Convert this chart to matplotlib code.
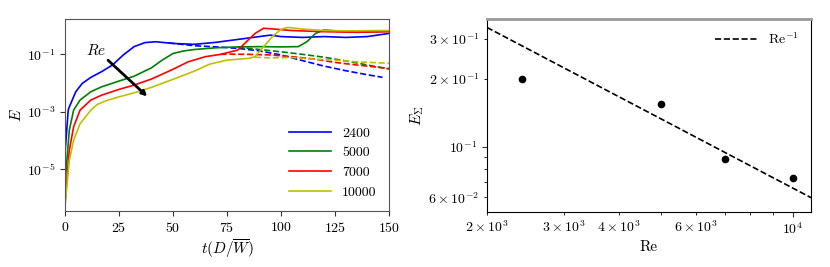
import numpy as np
import matplotlib
matplotlib.use("Agg")
import matplotlib.pyplot as plt

plt.rcParams["font.family"] = "serif"
plt.rcParams["font.serif"] = ["cmr10", "DejaVu Serif"]
plt.rcParams["mathtext.fontset"] = "cm"
plt.rcParams["axes.formatter.use_mathtext"] = True
plt.rcParams["axes.unicode_minus"] = False

# ---- left panel: energy vs time (log10 E) ----
labels = ["2400", "5000", "7000", "10000"]
colors = ["b", "g", "r", "y"]

t_2400 = [0, 1.5, 2, 5, 8, 12, 17, 22, 27, 32, 37, 42, 50, 60, 70, 80, 90, 95, 100, 110, 120, 130, 140, 150]
e_2400 = [-4.45, -2.94, -2.83, -2.30, -2.01, -1.80, -1.60, -1.37, -1.02, -0.73, -0.59, -0.56, -0.62, -0.65,
          -0.58, -0.48, -0.38, -0.33, -0.38, -0.41, -0.38, -0.41, -0.38, -0.27]
t_2400d = [48, 60, 70, 80, 90, 100, 110, 120, 130, 140, 147]
e_2400d = [-0.60, -0.70, -0.74, -0.79, -0.88, -1.02, -1.22, -1.41, -1.57, -1.71, -1.80]

t_5000 = [0, 2, 4, 7, 12, 17, 25, 32, 40, 45, 50, 55, 60, 70, 80, 90, 100, 108, 112, 116, 120, 125, 135, 145, 150]
e_5000 = [-5.5, -3.64, -2.94, -2.59, -2.30, -2.13, -1.93, -1.76, -1.47, -1.20, -0.97, -0.88, -0.83, -0.77,
          -0.74, -0.73, -0.74, -0.73, -0.56, -0.27, -0.15, -0.18, -0.23, -0.21, -0.19]
t_5000d = [80, 90, 100, 110, 120, 130, 140, 150]
e_5000d = [-0.75, -0.83, -0.91, -1.00, -1.10, -1.23, -1.37, -1.51]

t_7000 = [0, 2, 4, 7, 12, 17, 25, 32, 40, 50, 57, 65, 72, 80, 84, 88, 92, 97, 105, 120, 135, 150]
e_7000 = [-6.2, -4.34, -3.52, -2.94, -2.59, -2.42, -2.22, -2.07, -1.86, -1.52, -1.26, -1.08, -1.00, -0.85,
          -0.56, -0.27, -0.09, -0.12, -0.17, -0.21, -0.23, -0.21]
t_7000d = [72, 75, 85, 95, 105, 115, 125, 135, 150]
e_7000d = [-1.00, -0.99, -1.00, -1.02, -1.08, -1.16, -1.28, -1.37, -1.49]

t_10000 = [0, 2, 4, 7, 12, 15, 20, 25, 32, 40, 50, 60, 67, 75, 85, 88, 92, 96, 100, 103, 110, 120, 130, 150]
e_10000 = [-6.3, -4.69, -3.99, -3.41, -2.94, -2.74, -2.59, -2.48, -2.34, -2.15, -1.87, -1.58, -1.34, -1.20,
           -1.14, -1.08, -0.73, -0.38, -0.13, -0.06, -0.12, -0.17, -0.18, -0.17]
t_10000d = [88, 95, 105, 115, 125, 135, 150]
e_10000d = [-1.10, -1.12, -1.11, -1.17, -1.20, -1.26, -1.31]

# ---- right panel: integrated energy vs Re ----
re_pts = [2400, 5000, 7000, 10000]
esum_pts = [0.200, 0.155, 0.0883, 0.0733]
re_line = [2000, 11000]
esum_line = [0.336, 0.0598]

solid = [(t_2400, e_2400), (t_5000, e_5000), (t_7000, e_7000), (t_10000, e_10000)]
dashed = [(t_2400d, e_2400d), (t_5000d, e_5000d), (t_7000d, e_7000d), (t_10000d, e_10000d)]

fig = plt.figure(figsize=(8.3, 2.67), dpi=100)
ax1 = fig.add_axes([0.0783, 0.2097, 0.3904, 0.719])
ax2 = fig.add_axes([0.5867, 0.2060, 0.3904, 0.7228])

for (t, e), (td, ed), c, lab in zip(solid, dashed, colors, labels):
    ax1.plot(td, 10 ** np.array(ed), color=c, ls="--", lw=1.2)
    ax1.plot(t, 10 ** np.array(e), color=c, lw=1.2, label=lab)

ax1.set_yscale("log")
ax1.set_xlim(0, 150)
ax1.set_ylim(3.5e-7, 1.7)
ax1.set_xticks([0, 25, 50, 75, 100, 125, 150])
ax1.set_yticks([1e-5, 1e-3, 1e-1])
ax1.yaxis.set_minor_locator(matplotlib.ticker.NullLocator())
ax1.set_xlabel(r"$t(D/\overline{W})$", fontsize=11, labelpad=2)
ax1.set_ylabel(r"$E$", fontsize=11, labelpad=2)
ax1.annotate("", xy=(39, 10 ** -2.53), xytext=(19, 10 ** -1.14),
             arrowprops=dict(arrowstyle="-|>", color="k", lw=2, mutation_scale=7))
ax1.text(9.5, 10 ** -0.85, r"$Re$", fontsize=11, va="center")
ax1.legend(loc="lower right", frameon=False, fontsize=10, handlelength=3)
for s in ax1.spines.values():
    s.set_color("#555555")

ax2.plot(re_line, esum_line, "k--", lw=1.2, label=r"$\mathrm{Re}^{-1}$")
ax2.plot(re_pts, esum_pts, "ko", ms=4.5)
ax2.set_xscale("log")
ax2.set_yscale("log")
ax2.set_xlim(2000, 11000)
ax2.set_ylim(0.0517, 0.366)
ax2.set_xlabel("Re", fontsize=11, labelpad=2)
ax2.set_ylabel(r"$E_\Sigma$", fontsize=11, labelpad=2)
ax2.legend(loc="upper right", frameon=False, fontsize=10, handlelength=3)
ax2.spines["top"].set_color("#999999")
ax2.spines["top"].set_linewidth(2)

for ax in (ax1, ax2):
    ax.tick_params(labelsize=10, color="#333333")

fig.savefig("out.png", dpi=100)
